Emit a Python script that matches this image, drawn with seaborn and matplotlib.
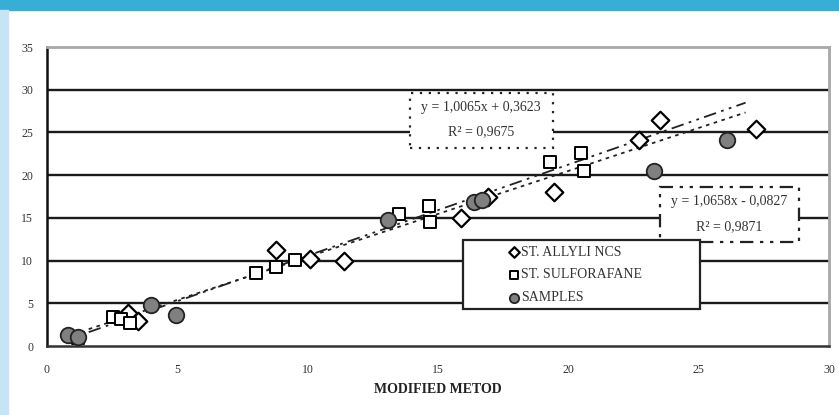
import matplotlib
matplotlib.use("Agg")
import matplotlib.pyplot as plt
import seaborn as sns
from matplotlib.patches import Rectangle

# valori
allyl_x = [3.1, 3.5, 8.8, 10.1, 11.4, 15.9, 16.9, 19.45, 22.7, 23.5, 27.2]
allyl_y = [3.9, 2.9, 11.2, 10.2, 9.9, 15.0, 17.4, 18.0, 24.1, 26.5, 25.4]

sulfo_x = [1.2, 2.55, 2.85, 3.2, 8.0, 8.8, 9.5, 13.5, 14.65, 14.7, 19.3, 20.5, 20.6]
sulfo_y = [0.9, 3.4, 3.2, 2.7, 8.6, 9.3, 10.1, 15.5, 16.4, 14.5, 21.5, 22.6, 20.5]

samples_x = [0.8, 1.2, 4.0, 4.95, 13.1, 16.4, 16.7, 23.3, 26.1]
samples_y = [1.3, 1.0, 4.8, 3.6, 14.7, 16.9, 17.1, 20.5, 24.1]

# linee di tendenza (equazioni riportate nel grafico)
trend1_coef = (1.0065, 0.3623)
trend2_coef = (1.0658, -0.0827)
trend_x = [1.6, 26.8]

labels = ["ST. ALLYLI NCS", "ST. SULFORAFANE", "SAMPLES"]
eq1_text = ["y = 1,0065x + 0,3623", "R² = 0,9675"]
eq2_text = ["y = 1,0658x - 0,0827", "R² = 0,9871"]

sns.set_style("white")
plt.rcParams["font.family"] = ["Liberation Serif", "DejaVu Serif"]

W, H = 839, 415
fig = plt.figure(figsize=(W / 100, H / 100), dpi=100)

# cornice azzurra della pagina
fig.patches.append(Rectangle((0, 1 - 10 / H), 1, 10 / H, transform=fig.transFigure,
                             color="#38aed6", zorder=0))
fig.patches.append(Rectangle((0, 0), 8 / W, 1 - 10 / H, transform=fig.transFigure,
                             color="#c6e4f4", zorder=0))

ax = fig.add_axes([47 / W, 1 - 346 / H, 782 / W, 299 / H])
ax.set_xlim(0, 30)
ax.set_ylim(0, 35)

# griglia orizzontale scura
for yv in range(5, 35, 5):
    ax.axhline(yv, color="#1a1a1a", lw=1.7, zorder=0)

for s in ["top", "right"]:
    ax.spines[s].set_color("#a8a8a8")
    ax.spines[s].set_linewidth(2)
ax.spines["left"].set_color("#111111")
ax.spines["left"].set_linewidth(1.8)
ax.spines["bottom"].set_color("#333333")
ax.spines["bottom"].set_linewidth(1.8)

ax.set_xticks(range(0, 31, 5))
ax.set_yticks(range(0, 36, 5))
ax.tick_params(axis="both", direction="out", length=4, width=1.3, color="#111111",
               labelsize=8.5, labelcolor="#333333", pad=6)
ax.tick_params(axis="x", pad=9)

# linee di tendenza
t1_y = [trend1_coef[0] * x + trend1_coef[1] for x in trend_x]
t2_y = [trend2_coef[0] * x + trend2_coef[1] for x in trend_x]
sns.lineplot(x=trend_x, y=t1_y, ax=ax, color="#222222", lw=1.3,
             linestyle=(0, (2, 2.5)), zorder=3)
sns.lineplot(x=trend_x, y=t2_y, ax=ax, color="#222222", lw=1.3,
             linestyle=(0, (7, 3, 1.5, 3, 1.5, 3)), zorder=3)

# punti
sns.scatterplot(x=allyl_x, y=allyl_y, ax=ax, marker="D", s=80, color="white",
                edgecolor="black", linewidth=1.6, label=labels[0], zorder=5)
sns.scatterplot(x=sulfo_x, y=sulfo_y, ax=ax, marker="s", s=80, color="white",
                edgecolor="black", linewidth=1.4, label=labels[1], zorder=5)
sns.scatterplot(x=samples_x, y=samples_y, ax=ax, marker="o", s=125, color="#808080",
                edgecolor="#222222", linewidth=1.3, label=labels[2], zorder=5)

# riquadri delle equazioni
ax.add_patch(Rectangle((13.92, 23.2), 5.49, 6.43, facecolor="white", edgecolor="#222222",
                       lw=1.6, linestyle=(0, (1, 3)), zorder=2))
ax.text(16.66, 27.87, eq1_text[0], ha="center", va="center", fontsize=10, color="#333333", zorder=6)
ax.text(16.66, 25.06, eq1_text[1], ha="center", va="center", fontsize=10, color="#333333", zorder=6)

ax.add_patch(Rectangle((23.51, 12.18), 5.34, 6.44, facecolor="white", edgecolor="#222222",
                       lw=1.6, linestyle=(0, (6, 3, 1.5, 3, 1.5, 3)), zorder=2))
ax.text(26.18, 16.86, eq2_text[0], ha="center", va="center", fontsize=10, color="#333333", zorder=6)
ax.text(26.18, 13.93, eq2_text[1], ha="center", va="center", fontsize=10, color="#333333", zorder=6)

# riquadro della legenda
ax.add_patch(Rectangle((15.96, 4.33), 9.09, 8.07, facecolor="white", edgecolor="#222222",
                       lw=1.6, zorder=2))
leg = ax.legend(loc="upper left", bbox_to_anchor=(499 / W, 1 - 236 / H),
                bbox_transform=fig.transFigure, frameon=False, fontsize=10,
                markerscale=0.6, handlelength=0.7, handletextpad=0.2,
                labelspacing=0.7, borderpad=0.2)
for t in leg.get_texts():
    t.set_color("#333333")
leg.set_zorder(7)

ax.set_xlabel("MODIFIED METOD", fontsize=10, fontweight="bold", color="#222222", labelpad=5)
ax.set_ylabel("")

fig.savefig("out.png", dpi=100)
